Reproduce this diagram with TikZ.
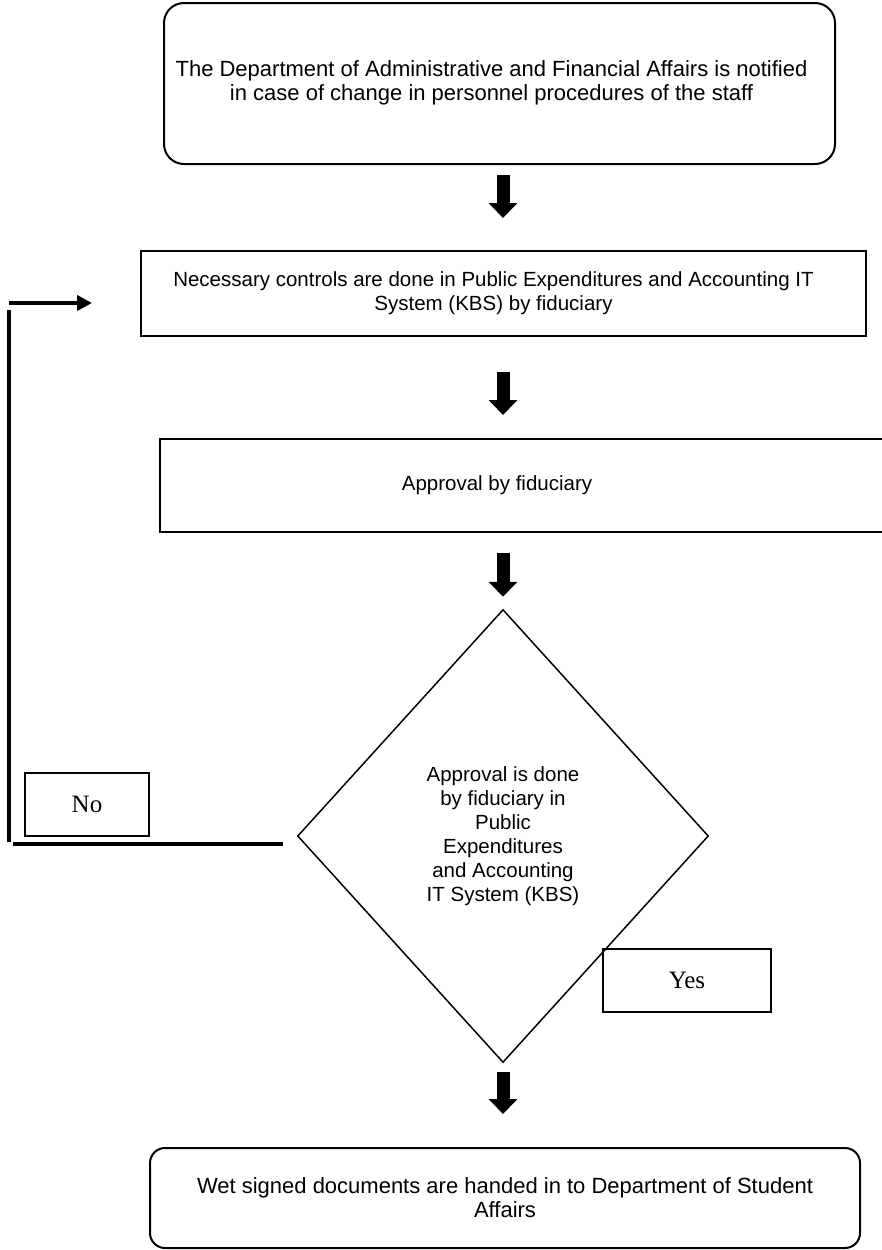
\documentclass[tikz,border=0pt]{standalone}
\usepackage{fontspec}
\setmainfont{Liberation Sans}
\newfontfamily\tnr{Liberation Serif}
\usetikzlibrary{shapes.geometric,arrows.meta}
\begin{document}
\begin{tikzpicture}[x=1pt,y=-1pt,
  box/.style={draw,line width=2pt,inner sep=0pt,align=center,font=\fontsize{20.5}{24}\selectfont},
  rbox/.style={box,font=\fontsize{22}{24}\selectfont},
  dec/.style={draw,diamond,line width=1.5pt,inner sep=0pt,align=center,font=\fontsize{20.5}{24}\selectfont},
  lab/.style={draw,line width=2pt,inner sep=0pt,font=\tnr\fontsize{25}{30}\selectfont},
  blk/.style={line width=13pt,-{Triangle[width=28pt,length=15pt]}},
  fb/.style={line width=4pt},
]
\useasboundingbox[fill=white] (0,0) rectangle (881,1250);

\node[rbox,rounded corners=20pt,minimum width=671pt,minimum height=161pt] (top) at (499.5,83.5)
  {\begin{tabular}{@{}c@{}}The Department of Administrative and Financial Affairs is notified\\in case of change in personnel procedures of the staff\end{tabular}\kern16pt};
\node[box,minimum width=725pt,minimum height=85pt] (ctrl) at (503.5,293.5)
  {\begin{tabular}{@{}c@{}}Necessary controls are done in Public Expenditures and Accounting IT\\System (KBS) by fiduciary\end{tabular}\kern20pt};
\node[box,minimum width=740pt,minimum height=93pt] (app) at (530,485.5)
  {\makebox[674pt]{Approval by fiduciary}\hspace{66pt}};
\node[dec,minimum width=411pt,minimum height=453pt] (dia) at (503,836)
  {Approval is done\\by fiduciary in\\Public\\Expenditures\\and Accounting\\IT System (KBS)};
\node[lab,minimum width=124pt,minimum height=63pt] (no) at (87,804.5) {No};
\node[lab,minimum width=168pt,minimum height=63pt] (yes) at (687,980) {Yes};
\node[rbox,rounded corners=15pt,minimum width=710pt,minimum height=100pt] (wet) at (505,1198)
  {Wet signed documents are handed in to Department of Student\\Affairs};

\draw[blk,shorten <=10pt,shorten >=32pt] (top.south -| dia.north) -- (ctrl.north -| dia.north);
\draw[blk,shorten <=35pt,shorten >=23pt] (ctrl.south -| dia.north) -- (app.north -| dia.north);
\draw[blk,shorten <=20pt,shorten >=12pt] (app.south -| dia.north) -- (dia.north);
\draw[blk,shorten <=9pt,shorten >=33pt] (dia.south) -- (wet.north -| dia.south);

\coordinate (f1) at (283,844);
\coordinate (f2) at (13,844);
\coordinate (f3) at (9,842);
\coordinate (f4) at (9,310);
\coordinate (f5) at (9,303);
\draw[fb] (f1) -- (f2);
\draw[fb] (f3) -- (f4);
\draw[fb,-{Triangle[width=15pt,length=15pt]},shorten >=48pt] (f5) -- (ctrl.west |- f5);
\end{tikzpicture}
\end{document}
